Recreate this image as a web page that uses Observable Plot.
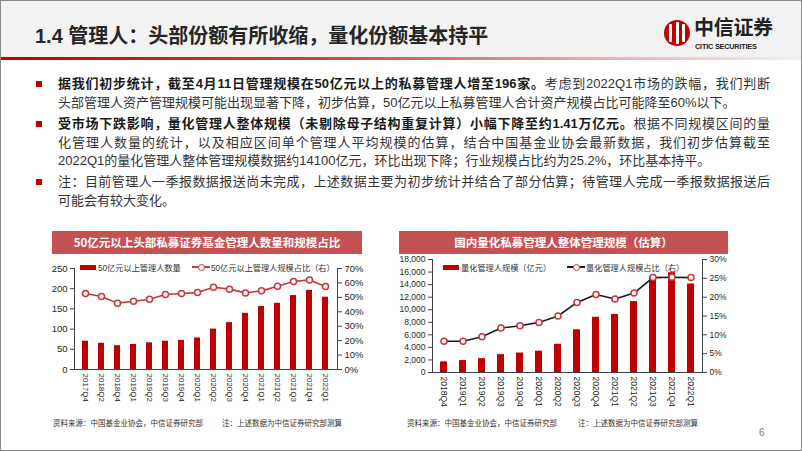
<!DOCTYPE html>
<html><head><meta charset="utf-8">
<script src="https://cdn.jsdelivr.net/npm/d3@7"></script>
<script src="https://cdn.jsdelivr.net/npm/@observablehq/plot@0.6"></script>
<style>
html,body{margin:0;padding:0;}
body{width:802px;height:451px;position:relative;overflow:hidden;background:#fff;font-family:"Liberation Sans","Noto Sans CJK SC",sans-serif;}
.abs{position:absolute;}
#frame{left:0;top:0;width:800px;height:449px;border:1px solid #8a8a8a;box-sizing:content-box;}
#header{left:1px;top:1px;width:800px;height:56px;background:#f2f2f2;}
#hline{left:1px;top:57px;width:800px;height:3px;background:linear-gradient(90deg,#c00000 0%,#d04040 40%,#e6b0b0 75%,#f2f2f2 100%);}
#title{left:35px;top:20px;font-size:20px;font-weight:bold;color:#262626;white-space:nowrap;font-family:"Liberation Sans Narrow","Liberation Sans","Noto Sans CJK SC";}
#title .cn{font-family:"Noto Sans CJK SC";}
.body{left:58px;width:712px;font-size:13px;line-height:18.5px;color:#333;font-family:"Liberation Sans Narrow","Liberation Sans","Noto Sans CJK SC";}
.body div{white-space:nowrap;}
.body .j{text-align:justify;text-align-last:justify;white-space:normal;}
.body b{color:#1a1a1a;}
.bul{width:6px;height:6px;background:#c00000;left:36px;}
.tbar{height:23px;background:#c55252;color:#fff;font-weight:bold;font-size:11.5px;text-align:center;line-height:23px;font-family:"Noto Sans CJK SC";white-space:nowrap;}
.leg{font-size:8.2px;color:#333;white-space:nowrap;font-family:"Liberation Sans","Noto Sans CJK SC";display:flex;align-items:center;}
.sw{display:inline-block;width:16px;height:5px;background:#c00000;margin-right:2px;}
.lsw{display:inline-block;width:18px;height:10px;position:relative;margin-right:1px;}
.lsw i{position:absolute;left:0;top:4px;width:18px;height:1.5px;}
.lsw u{position:absolute;left:5.5px;top:1.5px;width:5px;height:5px;border-radius:50%;background:#fff;border:1.5px solid #c9363e;}
.cap{font-size:7.5px;color:#333;white-space:nowrap;font-family:"Noto Sans CJK SC";}
</style></head>
<body>
<div id="frame" class="abs"></div>
<div id="header" class="abs"></div>
<div id="hline" class="abs"></div>
<div id="title" class="abs">1.4 <span class="cn">管理人：头部份额有所收缩，量化份额基本持平</span></div>
<div class="abs" style="left:664px;top:20px;width:26px;height:26px;border-radius:50%;background:#c00000;"></div>
<div class="abs" style="left:669px;top:24px;width:3px;height:18px;background:#fff;border-radius:1px;"></div>
<div class="abs" style="left:675.5px;top:22px;width:3px;height:22px;background:#fff;border-radius:1px;"></div>
<div class="abs" style="left:682px;top:24px;width:3px;height:18px;background:#fff;border-radius:1px;"></div>
<div class="abs" style="left:694px;top:16px;font-size:20px;line-height:22px;font-weight:bold;color:#222;font-family:'Noto Sans CJK SC';letter-spacing:-0.3px;">中信证券</div>
<div class="abs" style="left:695px;top:43px;font-size:7.3px;line-height:8px;font-weight:bold;color:#222;letter-spacing:-0.2px;">CITIC SECURITIES</div>

<div class="abs bul" style="top:81px;"></div>
<div class="abs body" style="top:75px;">
<div class="j"><b>据我们初步统计，截至4月11日管理规模在50亿元以上的私募管理人增至196家。</b>考虑到2022Q1市场的跌幅，我们判断</div>
<div>头部管理人资产管理规模可能出现显著下降，初步估算，50亿元以上私募管理人合计资产规模占比可能降至60%以下。</div>
</div>
<div class="abs bul" style="top:121px;"></div>
<div class="abs body" style="top:115px;">
<div class="j"><b>受市场下跌影响，量化管理人整体规模（未剔除母子结构重复计算）小幅下降至约1.41万亿元。</b>根据不同规模区间的量</div>
<div class="j">化管理人数量的统计，以及相应区间单个管理人平均规模的估算，结合中国基金业协会最新数据，我们初步估算截至</div>
<div>2022Q1的量化管理人整体管理规模数据约14100亿元，环比出现下降；行业规模占比约为25.2%，环比基本持平。</div>
</div>
<div class="abs bul" style="top:179px;"></div>
<div class="abs body" style="top:173px;">
<div class="j">注：目前管理人一季报数据报送尚未完成，上述数据主要为初步统计并结合了部分估算；待管理人完成一季报数据报送后</div>
<div>可能会有较大变化。</div>
</div>

<div class="abs tbar" style="left:52px;top:231px;width:310px;">50亿元以上头部私募证券基金管理人数量和规模占比</div>
<div class="abs tbar" style="left:399px;top:231px;width:329px;">国内量化私募管理人整体管理规模（估算）</div>

<div id="c1" class="abs" style="left:40px;top:255px;"></div>
<div id="c2" class="abs" style="left:400px;top:250px;"></div>

<div class="abs leg" style="left:80px;top:261px;"><span class="sw"></span>50亿元以上管理人数量</div>
<div class="abs leg" style="left:192px;top:261px;"><span class="lsw"><i style="background:#c9363e"></i><u></u></span>50亿元以上管理人规模占比（右）</div>
<div class="abs leg" style="left:443px;top:261px;"><span class="sw"></span>量化管理人规模（亿元）</div>
<div class="abs leg" style="left:567px;top:261px;"><span class="lsw"><i style="background:#1a1a1a"></i><u></u></span>量化管理人规模占比（右）</div>

<div class="abs cap" style="left:53px;top:417px;">资料来源：中国基金业协会，中信证券研究部</div>
<div class="abs cap" style="left:222px;top:417px;">注：上述数据为中信证券研究部测算</div>
<div class="abs cap" style="left:407px;top:417px;">资料来源：中国基金业协会，中信证券研究部</div>
<div class="abs cap" style="left:578px;top:417px;">注：上述数据为中信证券研究部测算</div>
<div class="abs" style="left:759px;top:427px;font-size:10px;color:#7f7f7f;">6</div>

<script>
// ---- Chart 1 data ----
const quarters1 = ["2017Q4","2018Q2","2018Q4","2019Q1","2019Q2","2019Q3","2019Q4","2020Q1","2020Q2","2020Q3","2020Q4","2021Q1","2021Q2","2021Q3","2021Q4","2022Q1"];
const managerCount = [70,65,59,62,66,70,72,78,100,116,139,156,164,183,196,179];
const topShare = [52.7,50.6,46.0,47.3,48.7,52.0,52.7,53.3,57.0,55.7,53.1,54.5,57.7,61.0,62.1,57.5];
const leftTicks1 = [0,50,100,150,200,250];
const rightTicks1 = [0,10,20,30,40,50,60,70];

// ---- Chart 2 data ----
const quarters2 = ["2018Q4","2019Q1","2019Q2","2019Q3","2019Q4","2020Q1","2020Q2","2020Q3","2020Q4","2021Q1","2021Q2","2021Q3","2021Q4","2022Q1"];
const quantAUM = [1700,1900,2200,2850,3100,3400,4500,6800,8800,9250,11300,15200,15900,14100];
const quantShare = [8.3,8.3,9.5,11.8,12.4,13.3,15.0,18.6,20.7,19.5,21.1,25.2,25.3,25.2];
const leftTicks2 = [0,2000,4000,6000,8000,10000,12000,14000,16000,18000];
const rightTicks2 = [0,5,10,15,20,25,30];

const BAR = "#c00000";
const axisCol = "#404040";
const yFontFam = "'Liberation Sans',sans-serif";
const xFontFam = "'Liberation Sans Narrow','Liberation Sans',sans-serif";

function dualChart({quarters, bars, line, leftMax, rightMax, leftTicks, rightTicks, lineColor, width, height, m, pi, po, yFont, xFont}) {
  const k = leftMax / rightMax;
  const data = quarters.map((q,i) => ({q, b: bars[i], p: line[i]}));
  return Plot.plot({
    width, height,
    marginTop: m[0], marginRight: m[1], marginBottom: m[2], marginLeft: m[3],
    style: {background: "transparent", fontFamily: yFontFam, fontSize: yFont + "px", color: "#262626", overflow: "visible"},
    x: {domain: quarters, paddingInner: pi, paddingOuter: po, axis: null},
    y: {domain: [0, leftMax], axis: null},
    marks: [
      Plot.barY(data, {x: "q", y: "b", fill: BAR}),
      Plot.frame({anchor: "left", stroke: axisCol}),
      Plot.frame({anchor: "right", stroke: axisCol}),
      Plot.ruleY([0], {stroke: axisCol}),
      Plot.axisY(leftTicks, {anchor: "left", tickSize: 4, tickPadding: 3, label: null, stroke: axisCol, fontSize: yFont}),
      Plot.axisY(rightTicks.map(d => d * k), {anchor: "right", tickSize: 4, tickPadding: 3, label: null, stroke: axisCol, fontSize: yFont, tickFormat: d => Math.round(d / k) + "%"}),
      Plot.axisX({tickRotate: 90, tickSize: 0, tickPadding: 4, label: null, fontSize: xFont, fontFamily: xFontFam}),
      Plot.line(data, {x: "q", y: d => d.p * k, stroke: lineColor, strokeWidth: 1.6}),
      Plot.dot(data, {x: "q", y: d => d.p * k, r: 3, fill: "white", stroke: "#c9363e", strokeWidth: 1.5})
    ]
  });
}

document.getElementById("c1").append(dualChart({
  quarters: quarters1, bars: managerCount, line: topShare, leftMax: 250, rightMax: 70,
  leftTicks: leftTicks1, rightTicks: rightTicks1, lineColor: "#c9363e",
  width: 340, height: 145, m: [13, 43, 31, 34], pi: 0.6, po: 0.32, yFont: 9.5, xFont: 8
}));
document.getElementById("c2").append(dualChart({
  quarters: quarters2, bars: quantAUM, line: quantShare, leftMax: 18000, rightMax: 30,
  leftTicks: leftTicks2, rightTicks: rightTicks2, lineColor: "#1a1a1a",
  width: 330, height: 150, m: [9, 28, 28, 32], pi: 0.62, po: 0.33, yFont: 8.5, xFont: 8.5
}));
</script>
</body></html>
